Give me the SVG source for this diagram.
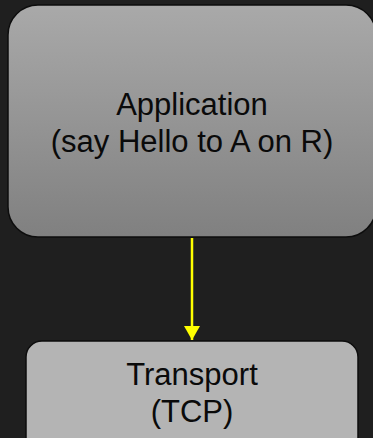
<svg xmlns="http://www.w3.org/2000/svg" width="373" height="438" viewBox="0 0 373 438">
  <style>
    .box { stroke: #0d0d0d; stroke-width: 1.5; }
    .label { font-family: "Liberation Sans", Arial, sans-serif; font-size: 31px; fill: #0a0a0a; text-anchor: middle; }
    .link { stroke: #ffff00; stroke-width: 2.5; fill: none; }
  </style>
  <defs>
    <linearGradient id="appFill" x1="0" y1="0" x2="0" y2="1">
      <stop offset="0" stop-color="#a9a9a9"/>
      <stop offset="1" stop-color="#808080"/>
    </linearGradient>
    <marker id="arrowHead" viewBox="0 0 14 16" refX="14" refY="8" markerWidth="14" markerHeight="16" markerUnits="userSpaceOnUse" orient="auto">
      <path d="M0,0 L14,8 L0,16 Z" fill="#ffff00"/>
    </marker>
  </defs>
  <rect width="373" height="438" fill="#1f1f1f"/>

  <g id="application">
    <rect class="box" x="8" y="5" width="368" height="232" rx="30" ry="30" fill="url(#appFill)"/>
    <text class="label" x="192" y="115">Application</text>
    <text class="label" x="192" y="152">(say Hello to A on R)</text>
  </g>

  <g id="transport">
    <rect class="box" x="26" y="341" width="332" height="120" rx="16" ry="16" fill="#b4b4b4"/>
    <text class="label" x="192" y="385">Transport</text>
    <text class="label" x="192" y="422">(TCP)</text>
  </g>

  <g id="connectors">
    <line class="link" x1="192" y1="238" x2="192" y2="340" marker-end="url(#arrowHead)"/>
  </g>
</svg>
